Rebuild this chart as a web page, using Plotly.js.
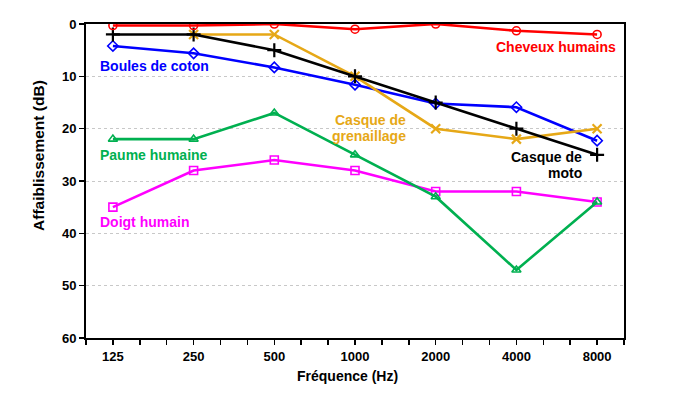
<!DOCTYPE html>
<html><head><meta charset="utf-8">
<script src="https://cdn.plot.ly/plotly-3.0.1.min.js"></script>
<style>html,body{margin:0;padding:0;background:#fff}#c{width:700px;height:399px}</style>
</head><body><div id="c"></div>
<script>
const freqs = ['125','250','500','1000','2000','4000','8000'];
const cheveux = [0.3, 0.3, 0, 1, 0, 1.3, 2];
const moto = [2, 2, 5, 10, 15, 20, 25];
const grenaillage = [null, 2, 2, 10, 20, 22, 20];
const coton = [4.2, 5.6, 8.3, 11.6, 15.2, 15.9, 22.3];
const paume = [22, 22, 17, 25, 33, 47, 34];
const doigt = [35, 28, 26, 28, 32, 32, 34];

const idx = freqs.map((f, i) => i);
function tr(y, color, symbol, name) {
  return {x: idx, y: y, name: name, type: 'scatter', mode: 'lines+markers',
    line: {color: color, width: 2.6},
    marker: {symbol: symbol, size: 8, color: color, line: {color: color, width: 1.6}},
    connectgaps: false};
}
const data = [
  tr(doigt, '#ff00ff', 'square-open', 'Doigt humain'),
  tr(paume, '#00b050', 'triangle-up-open', 'Paume humaine'),
  tr(coton, '#0000ff', 'diamond-open', 'Boules de coton'),
  tr(grenaillage, '#e6a817', 'x-thin-open', 'Casque de grenaillage'),
  tr(moto, '#000000', 'cross-thin-open', 'Casque de moto'),
  tr(cheveux, '#ff0000', 'circle-open', 'Cheveux humains')
];
data[3].marker.line.width = 2.2; data[4].marker.line.width = 2.2;
data[3].marker.size = 9; data[4].marker.size = 10;

const minorVals = [];
for (let k = -1; k <= 19; k++) minorVals.push(k / 3);

const FAM = 'Liberation Sans, Arial, sans-serif';
function ann(text, x, y, color, xanchor, size) {
  return {text: text, x: x, y: y, xref: 'x', yref: 'y', showarrow: false,
    xanchor: xanchor, yanchor: 'middle',
    font: {family: FAM, size: size || 14, weight: 'bold', color: color}};
}
const tickF = {family: FAM, size: 13, weight: 'bold', color: '#000'};
const layout = {
  width: 700, height: 399,
  margin: {l: 86, r: 76, t: 24, b: 61},
  paper_bgcolor: '#fff', plot_bgcolor: '#fff',
  showlegend: false,
  font: {family: FAM, color: '#000'},
  xaxis: {
    type: 'linear', range: [-1/3, 6 + 1/3],
    tickmode: 'array', tickvals: idx, ticktext: freqs,
    ticks: 'outside', ticklen: 5, tickwidth: 1.5, tickcolor: '#000',
    minor: {tickmode: 'array', tickvals: minorVals, ticks: 'outside', ticklen: 5, tickwidth: 1.5, tickcolor: '#000', showgrid: false},
    showgrid: false, zeroline: false,
    showline: true, linecolor: '#000', linewidth: 2, mirror: true,
    tickfont: tickF
  },
  yaxis: {
    range: [60, 0], dtick: 10, tick0: 0,
    ticks: 'outside', ticklen: 5, tickwidth: 1.5, tickcolor: '#000',
    showgrid: true, gridcolor: '#c8c8c8', griddash: 'dot', gridwidth: 1,
    zeroline: false,
    showline: true, linecolor: '#000', linewidth: 2, mirror: true,
    tickfont: tickF
  },
  annotations: [
    ann('Boules de coton', -0.18, 8.03, '#0000ff', 'left'),
    ann('Cheveux humains', 6.26, 4.4, '#ff0000', 'right'),
    ann('Casque de', 3.66, 18.35, '#e6a817', 'right'),
    ann('grenaillage', 3.66, 21.4, '#e6a817', 'right'),
    ann('Paume humaine', -0.18, 25.03, '#00b050', 'left'),
    ann('Doigt humain', -0.18, 37.78, '#ff00ff', 'left'),
    ann('Casque de', 5.84, 25.4, '#000000', 'right'),
    ann('moto', 5.84, 28.4, '#000000', 'right'),
    {text: 'Fréquence (Hz)', x: 0.486, y: -0.121, xref: 'paper', yref: 'paper',
     showarrow: false, xanchor: 'center', yanchor: 'middle',
     font: {family: FAM, size: 14, weight: 'bold', color: '#000'}},
    {text: 'Affaiblissement (dB)', x: -0.0874, y: 0.583, xref: 'paper', yref: 'paper',
     showarrow: false, xanchor: 'center', yanchor: 'middle', textangle: -90,
     font: {family: FAM, size: 15.5, weight: 'bold', color: '#000'}}
  ]
};
Plotly.newPlot('c', data, layout, {staticPlot: true, displayModeBar: false});
</script></body></html>
